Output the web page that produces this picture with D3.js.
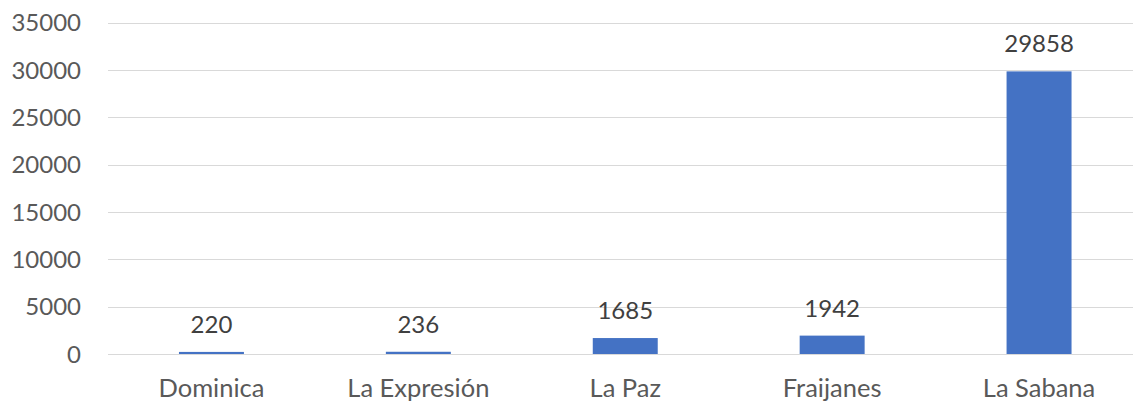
<!DOCTYPE html>
<html><head><meta charset="utf-8">
<script src="https://cdn.jsdelivr.net/npm/d3@7"></script>
<style>body{margin:0;background:#fff}svg{display:block}</style>
</head><body>
<svg id="c" width="1133" height="402"></svg>
<script>
const categories = ["Dominica", "La Expresión", "La Paz", "Fraijanes", "La Sabana"];
const values = [220, 236, 1685, 1942, 29858];
const yTicks = [0, 5000, 10000, 15000, 20000, 25000, 30000, 35000];

(function () {
const svg = d3.select("#c");
const mLeft = 108, mRight = 1142.5, mTop = 22.7, mBottom = 354;
const font = "Lato, 'Open Sans', sans-serif";

const x = d3.scaleBand().domain(categories).range([mLeft, mRight]).padding(0);
const y = d3.scaleLinear().domain([0, 35000]).range([mBottom, mTop]);
const barW = x.bandwidth() * 0.314;

// gridlines
svg.append("g").selectAll("line").data(yTicks).join("line")
  .attr("x1", mLeft).attr("x2", mRight)
  .attr("y1", d => Math.round(y(d)) + 0.5).attr("y2", d => Math.round(y(d)) + 0.5)
  .attr("stroke", "#d9d9d9").attr("stroke-width", 1);

// y tick labels
svg.append("g").selectAll("text").data(yTicks).join("text")
  .attr("x", 81).attr("y", d => y(d)).attr("dy", "0.36em")
  .attr("text-anchor", "end")
  .attr("font-family", font).attr("font-size", 24).attr("fill", "#595959")
  .text(d => d);

// bars
svg.append("g").selectAll("rect").data(values).join("rect")
  .attr("x", (d, i) => x(categories[i]) + x.bandwidth() / 2 - barW / 2)
  .attr("width", barW)
  .attr("y", d => y(d))
  .attr("height", d => mBottom - y(d))
  .attr("fill", "#4472C4");

// data labels
svg.append("g").selectAll("text").data(values).join("text")
  .attr("x", (d, i) => x(categories[i]) + x.bandwidth() / 2)
  .attr("y", d => y(d) - 19)
  .attr("text-anchor", "middle")
  .attr("font-family", font).attr("font-size", 24).attr("fill", "#404040")
  .text(d => d);

// category labels
svg.append("g").selectAll("text").data(categories).join("text")
  .attr("x", d => x(d) + x.bandwidth() / 2)
  .attr("y", 396.5)
  .attr("text-anchor", "middle")
  .attr("font-family", font).attr("font-size", 25.5).attr("fill", "#595959")
  .text(d => d);
})();
</script>
</body></html>
